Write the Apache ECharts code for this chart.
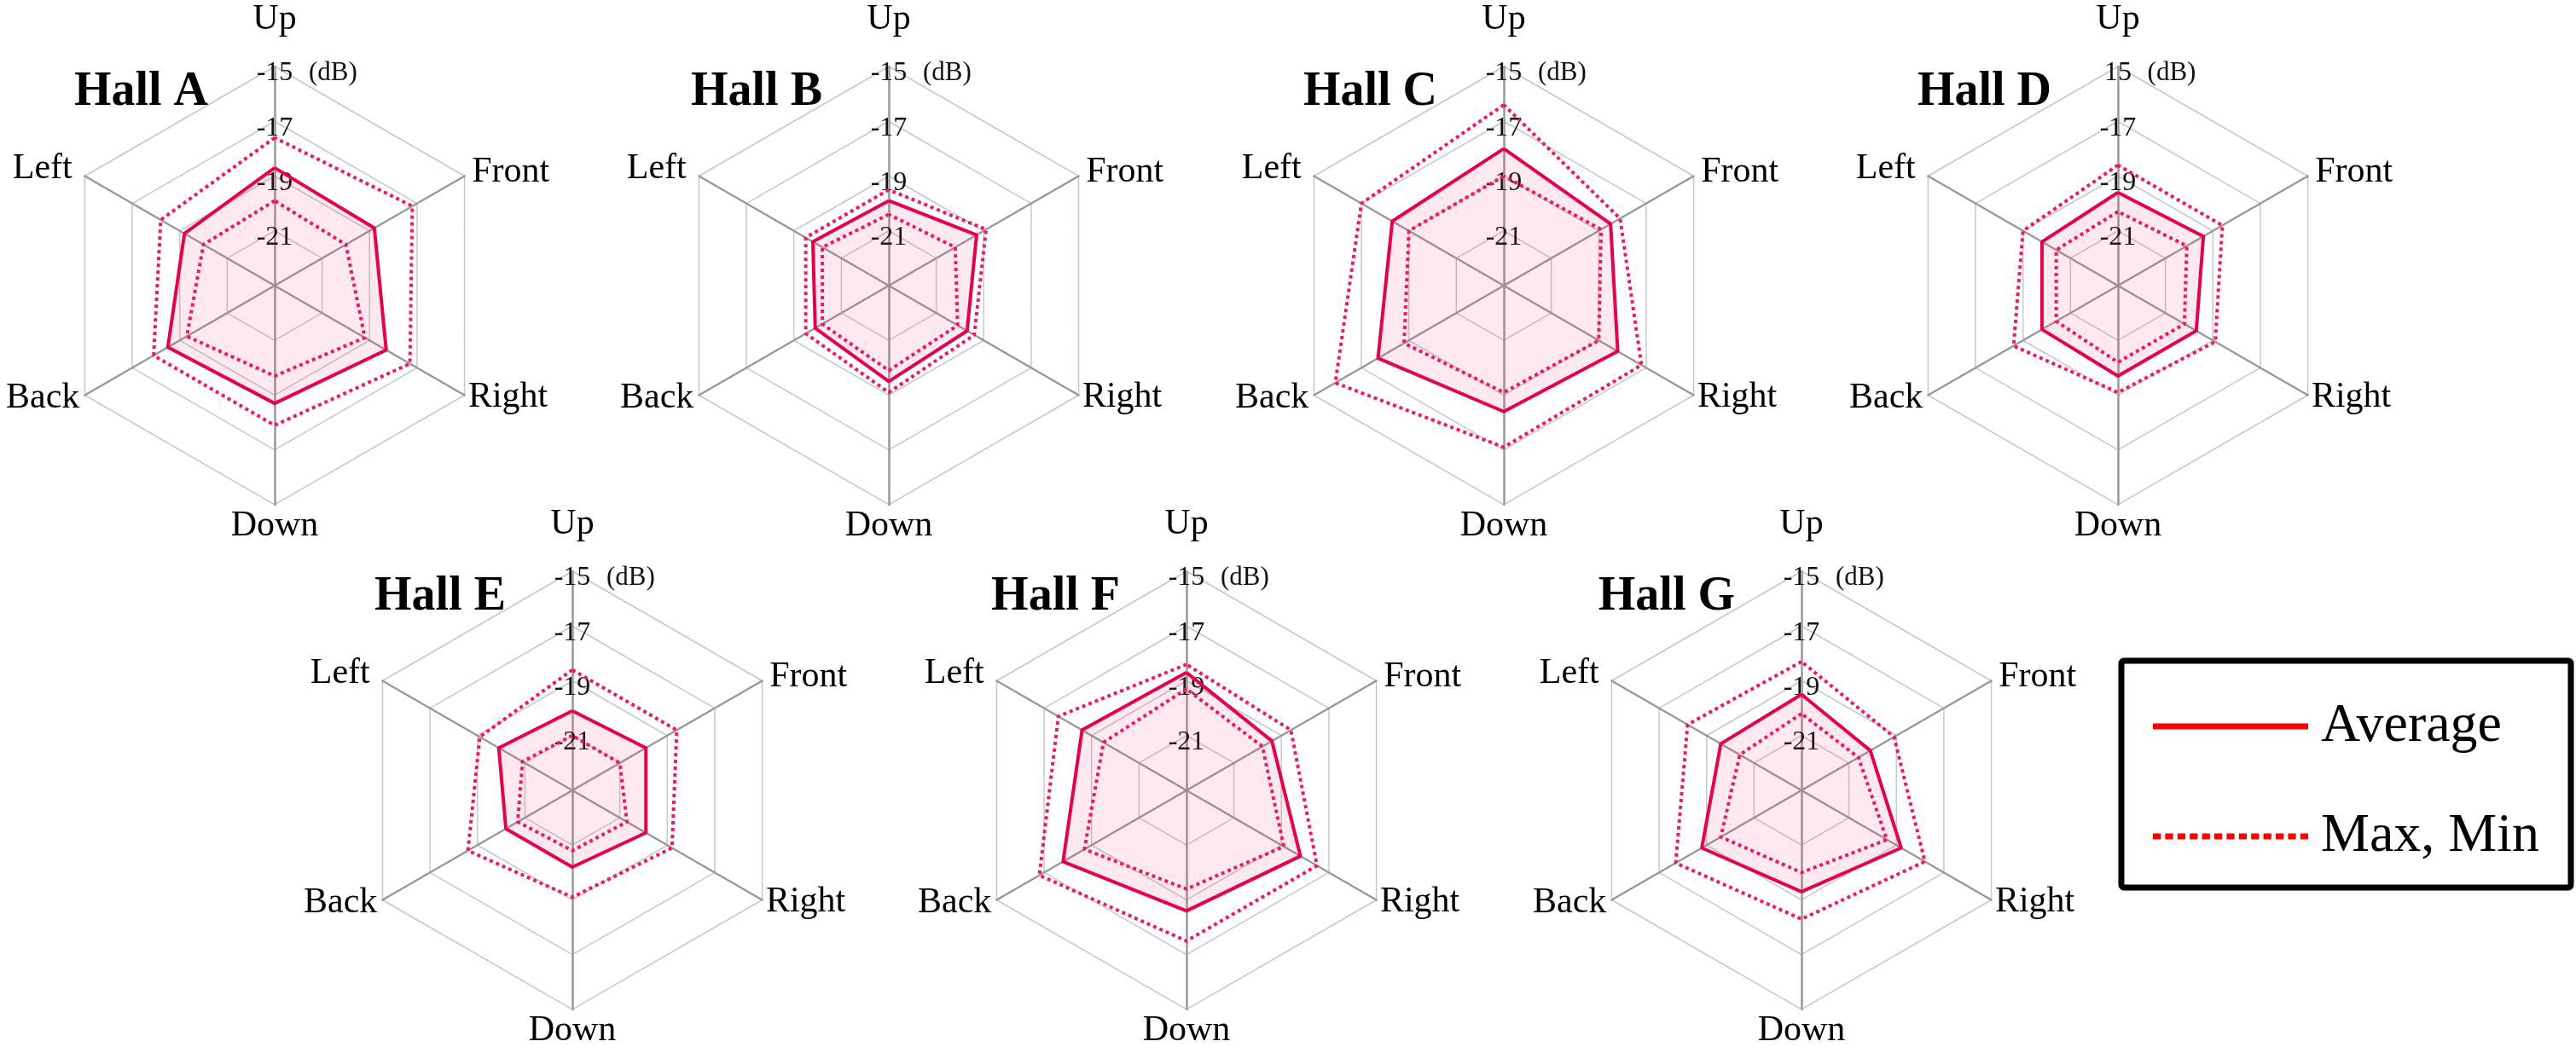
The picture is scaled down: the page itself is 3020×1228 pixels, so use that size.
<!DOCTYPE html>
<html><head><meta charset="utf-8">
<script src="https://cdn.jsdelivr.net/npm/echarts@6/dist/echarts.min.js"></script>
<style>html,body{margin:0;padding:0;background:#fff;} #c{width:3020px;height:1228px;}</style>
</head><body><div id="c"></div>
<script>
// ---------------- data ----------------
const halls = ['Hall A', 'Hall B', 'Hall C', 'Hall D', 'Hall E', 'Hall F', 'Hall G'];
// counter-clockwise from the top, as ECharts lays out radar indicators
const directions = ['Up', 'Left', 'Back', 'Down', 'Right', 'Front'];
const axisMin = -23;
const axisMax = -15;
const tickTopLabels = ['-15', '-15', '-15', '15', '-15', '-15', '-15'];
const unitLabel = '(dB)';
const legendNames = ['Average', 'Max, Min'];

// values in the order of `directions`: Up, Left, Back, Down, Right, Front
const averages = [
  [-18.7, -19.2, -18.5, -18.7, -18.3, -18.8],
  [-19.9, -19.8, -19.9, -19.5, -19.7, -19.3],
  [-18.0, -18.3, -17.7, -18.4, -18.2, -18.5],
  [-19.6, -19.8, -19.8, -19.7, -19.7, -19.4],
  [-20.1, -19.9, -20.2, -20.2, -19.9, -19.9],
  [-18.7, -18.6, -17.8, -18.6, -18.2, -19.4],
  [-19.5, -19.6, -18.8, -19.3, -18.8, -20.1]
];
const maxima = [
  [-17.6, -18.2, -17.9, -17.9, -17.3, -17.2],
  [-19.5, -19.5, -19.5, -19.1, -19.4, -18.9],
  [-16.4, -17.0, -15.9, -17.1, -17.2, -18.1],
  [-18.6, -19.0, -18.6, -19.1, -18.9, -18.6],
  [-18.6, -19.1, -18.6, -19.1, -18.8, -18.6],
  [-18.4, -17.6, -16.8, -17.5, -17.5, -18.6],
  [-18.3, -18.2, -17.7, -18.3, -17.8, -19.1]
];
const minima = [
  [-19.9, -20.0, -19.3, -19.7, -19.2, -20.0],
  [-20.4, -20.2, -20.2, -19.9, -20.1, -20.2],
  [-19.0, -19.0, -18.8, -19.1, -19.0, -18.9],
  [-20.3, -20.4, -20.4, -20.2, -20.2, -20.1],
  [-21.0, -20.9, -20.7, -20.8, -20.7, -21.0],
  [-19.3, -19.5, -18.7, -19.4, -18.9, -19.8],
  [-20.2, -20.4, -19.6, -20.0, -19.4, -20.6]
];

// ---------------- layout / style ----------------
const centers = [[322, 335], [1042, 335], [1763, 335], [2483, 335], [671, 927], [1391, 927], [2112, 927]];
const R = 257;
const nameGaps = [34, 17, 7, 4, 5, 10];
const FONT = '"Liberation Serif", "Times New Roman", serif';
const SOLID = '#E3004F';
const DOT = '#EE1A5C';
const FILL = 'rgba(238, 50, 105, 0.15)';

function dottedIconPath() {
  let p = 'path://';
  for (let k = 0; k < 13; k++) p += 'M' + (k * 14) + ',0h9v7h-9z';
  return p;
}

const chart = echarts.init(document.getElementById('c'), null, {renderer: 'canvas'});

const option = {
  animation: false,
  backgroundColor: '#fff',
  title: halls.map((h, i) => ({
    text: h,
    right: 3020 - (centers[i][0] - 78),
    top: centers[i][1] - 254,
    padding: 0,
    textStyle: {fontFamily: FONT, fontWeight: 'bold', fontSize: 56, color: '#000'}
  })),
  legend: {
    left: 2487, top: 775,
    orient: 'vertical',
    selectedMode: false,
    itemWidth: 182, itemHeight: 7, itemGap: 65,
    symbolKeepAspect: false,
    padding: [45, 37, 28, 37],
    borderColor: '#000', borderWidth: 7, borderRadius: 3,
    textStyle: {fontFamily: FONT, fontSize: 64, color: '#000', padding: [0, 0, 0, 10]},
    data: [
      {name: legendNames[0], icon: 'rect', itemStyle: {color: '#FF0000', borderWidth: 0}},
      {name: legendNames[1], icon: dottedIconPath(), itemStyle: {color: '#FF0000', borderWidth: 0}}
    ]
  },
  radar: halls.map((h, i) => ({
    center: centers[i],
    radius: R,
    shape: 'polygon',
    splitNumber: 4,
    startAngle: 90,
    indicator: directions.map((d, j) => {
      const ind = {name: d, min: axisMin, max: axisMax, nameGap: nameGaps[j]};
      if (j === 0) {
        ind.axisLabel = {
          show: true,
          margin: 0,
          align: 'center',
          verticalAlign: 'middle',
          fontFamily: FONT,
          fontSize: 32,
          color: '#111',
          padding: [16, 0, 0, 0],
          formatter: function (v) {
            if (v === axisMin) return '';
            if (v === axisMax) return '{s|}{v|' + tickTopLabels[i] + '}{g|}{u|' + unitLabel + '}';
            return '{v|' + v + '}';
          },
          rich: {
            s: {width: 76},
            g: {width: 18},
            v: {fontFamily: FONT, fontSize: 32, color: '#111'},
            u: {fontFamily: FONT, fontSize: 31, color: '#111', width: 58, align: 'left'}
          }
        };
      }
      return ind;
    }),
    axisName: {color: '#000', fontFamily: FONT, fontSize: 42},
    axisLine: {lineStyle: {color: '#999', width: 2.5}},
    splitLine: {lineStyle: {color: '#c8c8c8', width: 1.5}},
    splitArea: {show: false},
    axisTick: {show: false},
    axisLabel: {show: false}
  })),
  series: halls.map((h, i) => ({
    type: 'radar',
    radarIndex: i,
    symbol: 'none',
    silent: true,
    data: [
      {name: legendNames[0], value: averages[i],
       lineStyle: {color: SOLID, width: 4, type: 'solid'},
       itemStyle: {color: SOLID},
       areaStyle: {color: FILL}},
      {name: legendNames[1], value: maxima[i],
       lineStyle: {color: DOT, width: 4, type: [4, 4]},
       itemStyle: {color: DOT}},
      {name: legendNames[1], value: minima[i],
       lineStyle: {color: DOT, width: 4, type: [4, 4]},
       itemStyle: {color: DOT}}
    ]
  }))
};
chart.setOption(option);
</script>
</body></html>
